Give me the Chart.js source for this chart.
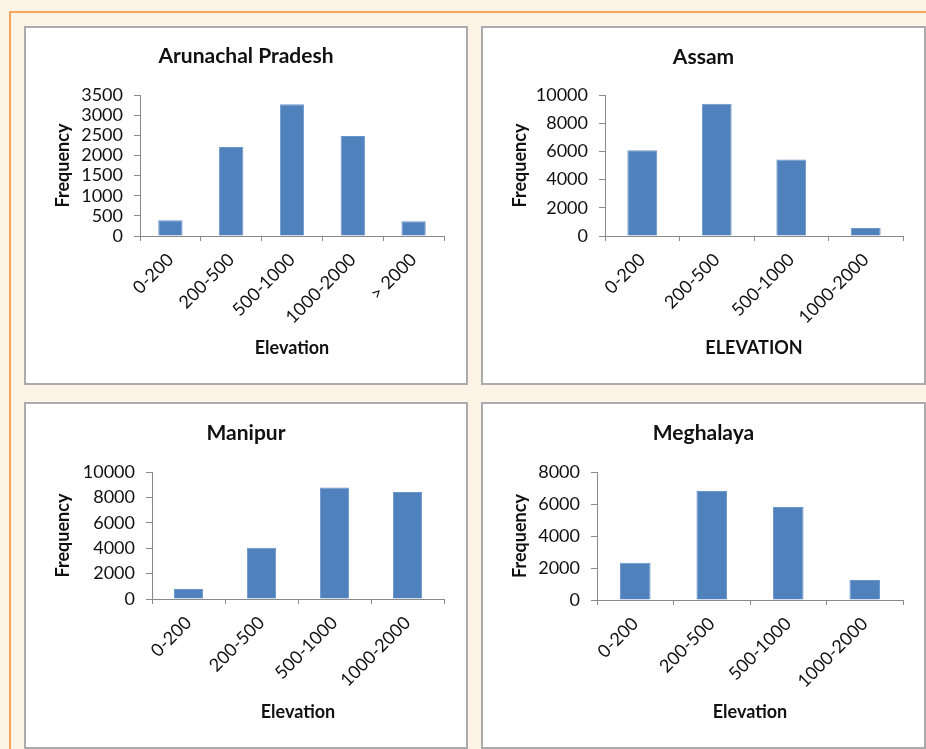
<!DOCTYPE html>
<html>
<head>
<meta charset="utf-8">
<script src="https://cdn.jsdelivr.net/npm/chart.js@4"></script>
<style>
  html, body { margin: 0; padding: 0; }
  body {
    width: 926px; height: 749px; overflow: hidden; position: relative;
    background: #fdf3e6; font-family: Lato, sans-serif;
  }
  .frame-top { position: absolute; left: 9px; top: 11px; width: 917px; height: 2px; background: #f9a55e; }
  .frame-left { position: absolute; left: 9px; top: 11px; width: 2px; height: 738px; background: #f9a55e; }
  .panel {
    position: absolute; box-sizing: border-box; background: #ffffff;
    border: 2px solid #ababab;
  }
  .panel canvas { display: block; }
</style>
</head>
<body>
<div class="frame-top"></div>
<div class="frame-left"></div>

<div class="panel" style="left:24px; top:26px; width:444px; height:359px;"><canvas id="arunachal"></canvas></div>
<div class="panel" style="left:481px; top:26px; width:445px; height:359px;"><canvas id="assam"></canvas></div>
<div class="panel" style="left:24px; top:402px; width:444px; height:347px;"><canvas id="manipur"></canvas></div>
<div class="panel" style="left:481px; top:402px; width:445px; height:347px;"><canvas id="meghalaya"></canvas></div>

<script>
// Elevation classes (metres) and frequency counts per state
const arunachalLabels = ['0-200', '200-500', '500-1000', '1000-2000', '> 2000'];
const arunachalFreq   = [390, 2210, 3270, 2480, 365];

const assamLabels = ['0-200', '200-500', '500-1000', '1000-2000'];
const assamFreq   = [6090, 9380, 5430, 570];

const manipurLabels = ['0-200', '200-500', '500-1000', '1000-2000'];
const manipurFreq   = [780, 4040, 8780, 8430];

const meghalayaLabels = ['0-200', '200-500', '500-1000', '1000-2000'];
const meghalayaFreq   = [2330, 6810, 5820, 1250];

// Y-axis ranges
const arunachalAxis = { max: 3500, step: 500 };
const assamAxis     = { max: 10000, step: 2000 };
const manipurAxis   = { max: 10000, step: 2000 };
const meghalayaAxis = { max: 8000, step: 2000 };

Chart.defaults.font.family = 'Lato, "Open Sans", sans-serif';
Chart.defaults.color = '#111111';

const AXIS_GRAY = '#8a8a8a';
const BAR_BLUE = '#4f81bd';

// Draws one histogram panel. `box` holds the canvas size and plot-area placement.
// Equal left/right layout padding keeps the chart title centred on the panel.
function drawPanel(id, title, labels, values, axis, xTitle, box) {
  const canvas = document.getElementById(id);
  canvas.width = box.w;
  canvas.height = box.h;
  canvas.style.width = box.w + 'px';
  canvas.style.height = box.h + 'px';

  const titleSize = 21, titleLH = titleSize * 1.2;
  const axTitleSize = 18, axTitleLH = axTitleSize * 1.2;
  const tickSize = 18;
  const titleTop = box.titleY - titleLH / 2;
  const side = box.padRight;

  new Chart(canvas, {
    type: 'bar',
    data: {
      labels: labels,
      datasets: [{
        data: values,
        backgroundColor: BAR_BLUE,
        borderColor: '#6b94c8',
        borderWidth: 1,
        barPercentage: 0.4,
        categoryPercentage: 1.0
      }]
    },
    options: {
      responsive: false,
      animation: false,
      devicePixelRatio: 1,
      layout: { padding: { left: side, right: side, top: 0, bottom: 0 } },
      plugins: {
        legend: { display: false },
        tooltip: { enabled: false },
        title: {
          display: true,
          text: title,
          color: '#111111',
          font: { size: titleSize, weight: 'bold' },
          padding: { top: titleTop, bottom: box.plotTop - titleTop - titleLH }
        }
      },
      scales: {
        x: {
          grid: {
            display: true, drawOnChartArea: false, drawTicks: true,
            tickLength: 5, color: AXIS_GRAY, offset: true
          },
          border: { display: true, color: AXIS_GRAY, width: 1 },
          ticks: {
            minRotation: 45, maxRotation: 45, autoSkip: false,
            padding: 8, font: { size: tickSize }, color: '#111111'
          },
          title: {
            display: true, text: xTitle, color: '#111111',
            font: { size: axTitleSize, weight: 'bold' },
            padding: { top: 0, bottom: (box.h - box.xTitleY) - axTitleLH / 2 }
          },
          afterFit: (s) => { s.height = box.h - box.plotBottom; }
        },
        y: {
          min: 0, max: axis.max,
          grid: {
            display: true, drawOnChartArea: false, drawTicks: true,
            tickLength: 6, color: AXIS_GRAY
          },
          border: { display: true, color: AXIS_GRAY, width: 1 },
          ticks: {
            stepSize: axis.step, padding: 11, autoSkip: false,
            font: { size: tickSize }, color: '#111111',
            callback: (v) => String(v)
          },
          title: {
            display: true, text: 'Frequency', color: '#111111',
            font: { size: axTitleSize, weight: 'bold' },
            padding: { top: box.yTitleX - side - axTitleLH / 2, bottom: 0 }
          },
          afterFit: (s) => { s.width = box.plotLeft - side; }
        }
      }
    }
  });
}

drawPanel('arunachal', 'Arunachal Pradesh', arunachalLabels, arunachalFreq, arunachalAxis, 'Elevation',
  { w: 440, h: 355, plotLeft: 114, padRight: 22, plotTop: 67, plotBottom: 208, titleY: 28, xTitleY: 320, yTitleX: 37 });

drawPanel('assam', 'Assam', assamLabels, assamFreq, assamAxis, 'ELEVATION',
  { w: 441, h: 355, plotLeft: 122, padRight: 21, plotTop: 67, plotBottom: 208, titleY: 29, xTitleY: 320, yTitleX: 37 });

drawPanel('manipur', 'Manipur', manipurLabels, manipurFreq, manipurAxis, 'Elevation',
  { w: 440, h: 343, plotLeft: 126, padRight: 22, plotTop: 68, plotBottom: 195, titleY: 29, xTitleY: 308, yTitleX: 37 });

drawPanel('meghalaya', 'Meghalaya', meghalayaLabels, meghalayaFreq, meghalayaAxis, 'Elevation',
  { w: 441, h: 343, plotLeft: 114, padRight: 21, plotTop: 68, plotBottom: 196, titleY: 29, xTitleY: 308, yTitleX: 37 });
</script>
</body>
</html>
